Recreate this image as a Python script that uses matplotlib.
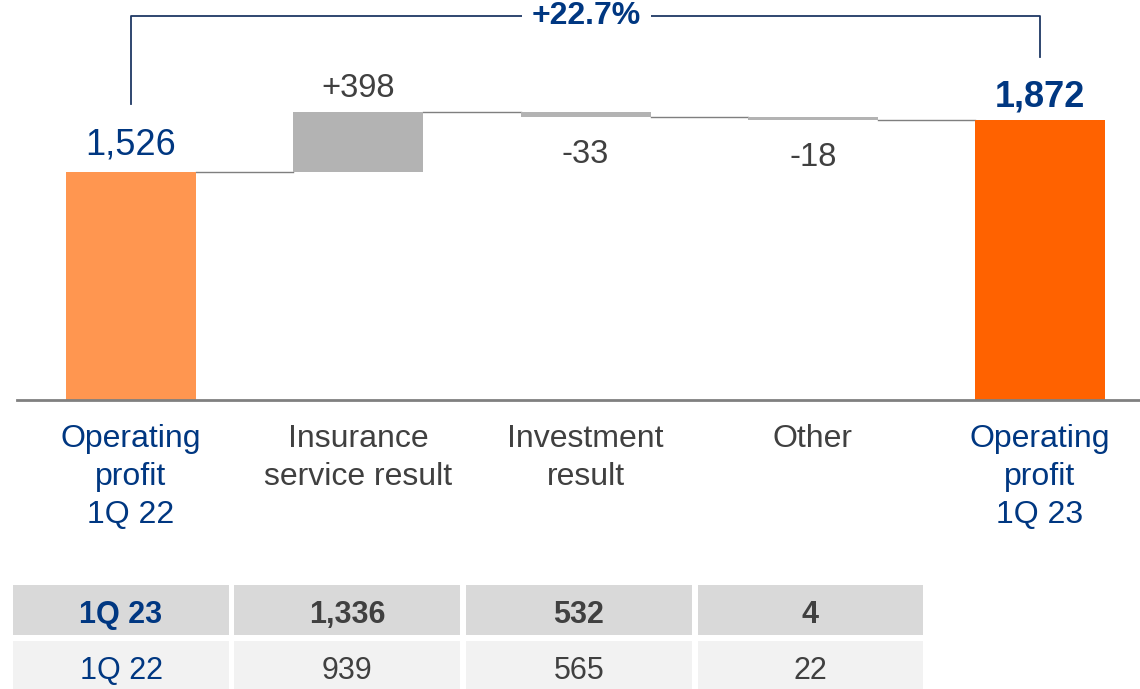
import matplotlib
matplotlib.use("Agg")
import matplotlib.pyplot as plt
from matplotlib.patches import Rectangle
import matplotlib.transforms as mtrans
import numpy as np

plt.rcParams['font.family'] = ['Liberation Sans', 'DejaVu Sans']

# ---------------- data ----------------
categories = ["Operating\nprofit\n1Q 22", "Insurance\nservice result",
              "Investment\nresult", "Other", "Operating\nprofit\n1Q 23"]
start_value = 1526
deltas = [398, -33, -18]
end_value = 1872
delta_labels = ["+398", "-33", "-18"]
total_labels = ["1,526", "1,872"]

table_row_1q23 = ["1Q 23", "1,336", "532", "4"]
table_row_1q22 = ["1Q 22", "939", "565", "22"]

# ---------------- style ----------------
NAVY = "#003781"
BRACKET = "#1f3864"
GREY_TXT = "#404040"
C_START = "#FF9650"
C_END = "#FF6200"
C_DELTA = "#B3B3B3"
C_CONN = "#7F7F7F"

W, H = 1140, 689
fig = plt.figure(figsize=(W / 100, H / 100), dpi=100)

# chart axes
ax_left, ax_bottom_px, ax_top_px = 17, 400, 0
ax = fig.add_axes([ax_left / W, (H - ax_bottom_px) / H, (W - ax_left) / W, (ax_bottom_px - ax_top_px) / H])
px_per_unit = 280 / 1872.0
ymax = (ax_bottom_px - ax_top_px) / px_per_unit
x_per_px = 4 / 909.0
ax.set_xlim(0 - (131 - ax_left) * x_per_px, 4 + (W - 1040) * x_per_px)
ax.set_ylim(0, ymax)
ax.axis('off')

bw = 130 / 227.25

# waterfall
levels = [start_value]
for d in deltas:
    levels.append(levels[-1] + d)

ax.bar(0, start_value, width=bw, color=C_START, zorder=2)
for i, d in enumerate(deltas):
    lo = min(levels[i], levels[i + 1])
    ax.bar(i + 1, abs(d), bottom=lo, width=bw, color=C_DELTA, zorder=2)
ax.bar(4, end_value, width=bw, color=C_END, zorder=2)

# connectors
for i in range(4):
    lv = levels[i]
    ax.plot([i + bw / 2, i + 1 - bw / 2], [lv, lv], color=C_CONN, lw=1.0, zorder=1)

# baseline
ax.plot([ax.get_xlim()[0], ax.get_xlim()[1]], [0, 0], color="#808080", lw=2, zorder=3, clip_on=False)

# value labels
ax.annotate(total_labels[0], (0, start_value), xytext=(0, 17), textcoords='offset pixels',
            ha='center', va='baseline', fontsize=26, color=NAVY)
ax.annotate(total_labels[1], (4, end_value), xytext=(0, 14), textcoords='offset pixels',
            ha='center', va='baseline', fontsize=26, color=NAVY, fontweight='bold')
for i, d in enumerate(deltas):
    top = max(levels[i], levels[i + 1])
    bot = min(levels[i], levels[i + 1])
    if d >= 0:
        ax.annotate(delta_labels[i], (i + 1, top), xytext=(0, 15), textcoords='offset pixels',
                    ha='center', va='baseline', fontsize=23.5, color=GREY_TXT)
    else:
        ax.annotate(delta_labels[i], (i + 1, bot), xytext=(0, -46), textcoords='offset pixels',
                    ha='center', va='baseline', fontsize=23.5, color=GREY_TXT)

# growth bracket
growth = (end_value / start_value - 1) * 100
y_br = (ax_bottom_px - 16) / px_per_unit
yl = start_value + 68 / px_per_unit
yr = end_value + 63 / px_per_unit
ax.plot([0, 0, 4, 4], [yl, y_br, y_br, yr], color=BRACKET, lw=1.3, zorder=1, clip_on=False)
ax.text(2 + 1 / 227.25, y_br, f"+{growth:.1f}%", ha='center', va='center', fontsize=23,
        fontweight='bold', color=NAVY, zorder=4,
        bbox=dict(facecolor='white', edgecolor='none', pad=7))

# category labels
trans = mtrans.blended_transform_factory(ax.transData, fig.transFigure)
base_px = [447, 485, 523]
for i, cat in enumerate(categories):
    col = NAVY if i in (0, 4) else GREY_TXT
    for j, line in enumerate(cat.split("\n")):
        ax.text(i, 1 - base_px[j] / H, line, transform=trans, ha='center', va='baseline',
                fontsize=23, color=col)

# table
axt = fig.add_axes([0, 0, 1, 1], zorder=-1)
axt.set_xlim(0, W)
axt.set_ylim(H, 0)
axt.axis('off')
col_edges = [(13, 229), (234, 460), (466, 692), (698, 923)]
rows = [table_row_1q23, table_row_1q22]
row_edges = [(585, 635), (641, 692)]
row_bg = ["#D9D9D9", "#F2F2F2"]
row_base = [623, 679]
for r, row in enumerate(rows):
    y0, y1 = row_edges[r]
    for c, val in enumerate(row):
        x0, x1 = col_edges[c]
        axt.add_patch(Rectangle((x0, y0), x1 - x0, y1 - y0, facecolor=row_bg[r], edgecolor='none'))
        axt.text((x0 + x1) / 2, row_base[r], val, ha='center', va='baseline', fontsize=22,
                 color=NAVY if c == 0 else GREY_TXT,
                 fontweight='bold' if r == 0 else 'normal')

fig.savefig("out.png", dpi=100)
